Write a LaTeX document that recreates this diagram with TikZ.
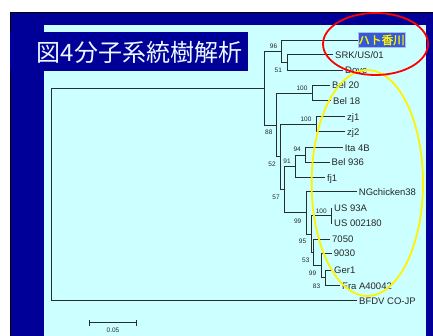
\documentclass[tikz,border=0pt]{standalone}
\usepackage{fontspec}
\setmainfont{Liberation Sans}
\newfontfamily\jpfont{Noto Sans CJK JP}
\newfontfamily\jpboldfont[FakeBold=2]{Noto Sans CJK JP}
\usetikzlibrary{arrows.meta}
\definecolor{slideblue}{RGB}{0,0,153}
\definecolor{slidecyan}{RGB}{204,255,255}
\definecolor{treeline}{RGB}{40,45,45}
\definecolor{hatoblue}{RGB}{51,90,215}
\begin{document}
\begin{tikzpicture}[x=1pt,y=-1pt,
  branch/.style={draw=treeline, line width=0.8pt},
  leaf/.style={anchor=west, inner xsep=2pt, inner ysep=0pt, font=\fontsize{9.5}{10}\selectfont, text=black!85, text height=6.8pt, text depth=0pt},
  boot/.style={inner sep=0pt, font=\fontsize{6.5}{7}\selectfont, text=black!85},
]
\useasboundingbox (0,0) rectangle (433,336);
% slide background
\fill[white] (0,0) rectangle (433,336);
\filldraw[fill=slideblue, draw=black, line width=1pt] (10.5,12.5) rectangle (445,350);
\fill[slidecyan] (44,25) rectangle (426,340);
% title
\fill[slideblue] (10,32.3) rectangle (248.3,70.7);
\node[text=white!92!cyan, font=\jpfont\fontsize{24}{25}\selectfont, inner sep=0pt] (title) at (139.5,52) {図4分子系統樹解析};

% internal nodes
\coordinate (root) at (51.7,194.4);
\coordinate (nA) at (264,88.1);
\coordinate (n96) at (281,51.25);
\coordinate (n51) at (287.3,62.5);
\coordinate (n88) at (276.7,124.95);
\coordinate (nBel) at (312.3,93);
\coordinate (n52) at (280.5,156.9);
\coordinate (nzj) at (316.7,124.2);
\coordinate (n57) at (284.3,189.6);
\coordinate (n91) at (295.7,166.35);
\coordinate (n94) at (305.7,155);
\coordinate (n99a) at (306,212.9);
\coordinate (n95) at (311,234.05);
\coordinate (nUS) at (331,215.8);
\coordinate (n53) at (313,252.3);
\coordinate (n99b) at (321,265.6);
\coordinate (n83) at (325,277.85);

% leaves
\node[anchor=west, fill=hatoblue, draw=white!60!hatoblue, line width=0.6pt, minimum width=47pt, minimum height=14.6pt, inner sep=0pt, text=yellow, font=\jpboldfont\fontsize{11.5}{12}\selectfont] (hato) at (357.7,40) {ハト香川};
\node[leaf] (SRK) at (333,54.7) {SRK/US/01};
\node[leaf] (Dove) at (343,70.3) {Dove};
\node[leaf] (Bel20) at (330,85.3) {Bel 20};
\node[leaf] (Bel18) at (331,100.7) {Bel 18};
\node[leaf] (zj1) at (345,116.7) {zj1};
\node[leaf] (zj2) at (345,131.7) {zj2};
\node[leaf] (Ita) at (342.7,147.7) {Ita 4B};
\node[leaf] (Bel936) at (329.5,162.3) {Bel 936};
\node[leaf] (fj1) at (325,177.7) {fj1};
\node[leaf] (NG) at (356.7,191.7) {NGchicken38};
\node[leaf] (US93A) at (332,208.3) {US 93A};
\node[leaf] (US002180) at (332,223.3) {US 002180};
\node[leaf] (L7050) at (330,239) {7050};
\node[leaf] (L9030) at (331.7,253.3) {9030};
\node[leaf] (Ger1) at (332,270) {Ger1};
\node[leaf] (Fra) at (340,285.7) {Fra A40042};
\node[leaf] (BFDV) at (357,300.7) {BFDV CO-JP};

% branches
\foreach \p/\c in {root/nA, root/BFDV.west, nA/n96, nA/n88, n96/hato.west, n96/n51,
  n51/SRK.west, n51/Dove.west, n88/nBel, n88/n52, nBel/Bel20.west, nBel/Bel18.west,
  n52/nzj, n52/n57, nzj/zj1.west, nzj/zj2.west, n57/n91, n57/n99a, n91/n94, n91/fj1.west,
  n94/Ita.west, n94/Bel936.west, n99a/NG.west, n99a/n95, n95/nUS, n95/n53,
  nUS/US93A.west, nUS/US002180.west, n53/L7050.west, n53/n99b, n99b/L9030.west, n99b/n83,
  n83/Ger1.west, n83/Fra.west}
  \draw[branch] (\p) |- (\c);

% bootstrap values
\node[boot] (b96) at (273.5,46.7) {96};
\node[boot] (b51) at (278.3,70) {51};
\node[boot] (b100a) at (302,88.5) {100};
\node[boot] (b100b) at (306,119) {100};
\node[boot] (b88) at (268.8,132.7) {88};
\node[boot] (b94) at (297.2,149.5) {94};
\node[boot] (b52) at (272,164.7) {52};
\node[boot] (b91) at (287,161.5) {91};
\node[boot] (b57) at (276,197.7) {57};
\node[boot] (b99a) at (297.7,221.5) {99};
\node[boot] (b100c) at (321.3,211.2) {100};
\node[boot] (b95) at (302.5,241.7) {95};
\node[boot] (b53) at (305.8,260.2) {53};
\node[boot] (b99b) at (312.5,272.8) {99};
\node[boot] (b83) at (316.5,286.2) {83};

% scale bar
\coordinate (sbL) at (89.3,322.7);
\coordinate (sbR) at (136.7,322.7);
\draw[treeline, line width=0.8pt, {Bar[width=6pt]}-{Bar[width=6pt]}] (sbL) -- (sbR);
\node[boot] (sblabel) at (113,330) {0.05};

% highlight rings
\draw[yellow, line width=1.8pt] (367.3,183) ellipse [x radius=55.7pt, y radius=113pt];
\draw[red, line width=1.8pt] (375.5,44) ellipse [x radius=52.5pt, y radius=31pt];
\end{tikzpicture}
\end{document}
